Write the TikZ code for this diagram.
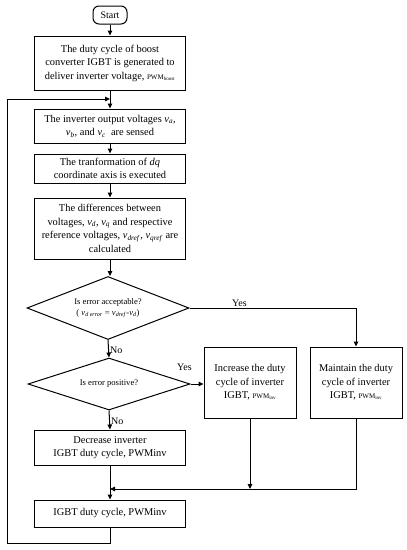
\documentclass[tikz,border=0pt]{standalone}
\usepackage{fontspec}
\setmainfont{Liberation Serif}
\usetikzlibrary{arrows.meta,positioning,shapes.geometric}

\newcommand{\vsub}[2]{\textit{#1}\textsubscript{\textit{#2}}}
\newcommand{\pwm}[1]{{\fontsize{7}{8}\selectfont PWM\textsubscript{#1}}}

\tikzset{
  proc/.style={draw, line width=1pt, minimum width=151pt, align=center, inner sep=2pt,
    font=\fontsize{10.4}{13.5}\selectfont},
  decide/.style={draw, diamond, line width=1pt, shape aspect=2.6, align=center, inner sep=0pt,
    font=\fontsize{8.6}{11}\selectfont},
  flow/.style={line width=1pt, -{Triangle[length=5pt,width=4.5pt]}},
  tag/.style={font=\fontsize{10}{12}\selectfont, inner sep=1pt},
}

\begin{document}
\begin{tikzpicture}[x=1pt, y=-1pt]
  \useasboundingbox (0,0) rectangle (407,550);

  % Define nodes of the main column
  \node[draw, line width=1pt, rounded corners=6pt, minimum width=34pt, minimum height=18pt,
    inner sep=1pt, font=\fontsize{10}{12}\selectfont] (start) at (110,15) {Start};
  \node[proc, minimum height=54pt] (gen) at (110,63)
    {The duty cycle of boost\\converter IGBT is generated to\\deliver inverter voltage, \pwm{boost}};
  \node[proc, minimum height=34pt] (sense) at (110,126)
    {The inverter output voltages \vsub{v}{a},\\\vsub{v}{b}, and \vsub{v}{c}\ \ are sensed};
  \node[proc, minimum height=29pt] (trans) at (110,168.5)
    {The tranformation of \textit{dq}\\coordinate axis is executed};
  \node[proc, minimum height=61pt] (diff) at (110,228.5)
    {The differences between\\voltages, \vsub{v}{d}, \vsub{v}{q} and respective\\reference voltages, \vsub{v}{dref}, \vsub{v}{qref} are\\calculated};
  \node[decide, minimum width=162pt, minimum height=63pt] (err) at (108,308)
    {Is error acceptable?\\( \vsub{v}{d error} = \vsub{v}{dref}-\vsub{v}{d})};
  \node[decide, minimum width=162pt, minimum height=52pt] (pos) at (109,384)
    {Is error positive?};
  \node[proc, minimum height=35pt] (dec) at (110,447.5)
    {Decrease inverter\\IGBT duty cycle, PWMinv};
  \node[proc, minimum height=27pt] (fin) at (110,513.5)
    {IGBT duty cycle, PWMinv};

  % Define nodes on the right
  \node[proc, minimum width=92pt, minimum height=71pt] (inc) at (250,382.5)
    {Increase the duty\\cycle of inverter\\IGBT, \pwm{inv}};
  \node[proc, minimum width=92pt, minimum height=71pt] (keep) at (356,382.5)
    {Maintain the duty\\cycle of inverter\\IGBT, \pwm{inv}};

  % Corner points of the connectors
  \coordinate (loopin) at (110,99);
  \coordinate (loopbl) at (7,543);
  \coordinate (merge) at (110,489);

  % Draw arrows between nodes
  \draw[flow] (start) to (gen);
  \draw[flow] (gen) to (sense);
  \draw[flow] (sense) to (trans);
  \draw[flow] (trans) to (diff);
  \draw[flow] (diff) to (err.north -| diff);
  \draw[flow] (err.south) to node[tag, right, pos=0.6] {No} (pos.north);
  \draw[flow] (err.east) -- node[tag, above, pos=0.3] {Yes} (err.east -| keep) -- (keep.north);
  \draw[flow] (pos.east) to node[tag, at start, above, xshift=-6pt, yshift=12pt] {Yes} (pos.east -| inc.west);
  \draw[flow] (pos.south) to node[tag, right, pos=0.55] {No} (dec.north);
  \draw[flow] (dec) to (fin);
  \draw[flow] (inc.south) to (merge -| inc.south);
  \draw[flow] (keep.south) |- (merge);
  \draw[flow] (fin.south) |- (loopbl) |- (loopin);
\end{tikzpicture}
\end{document}
